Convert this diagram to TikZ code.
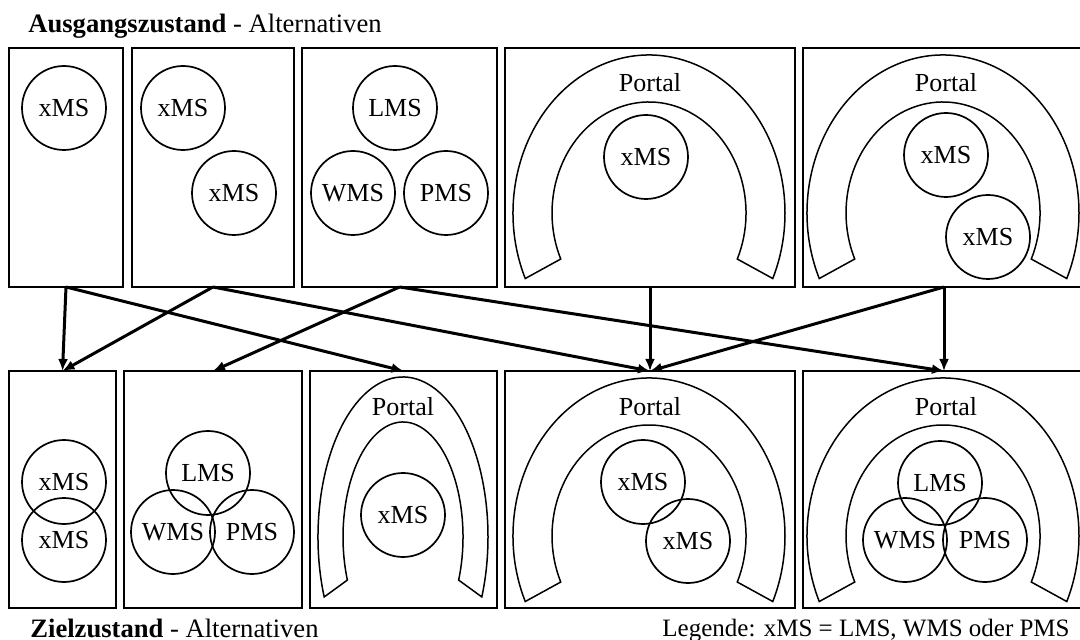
\documentclass[tikz,border=0pt]{standalone}
\usepackage{fontspec}
\setmainfont{Liberation Serif}
\usetikzlibrary{arrows.meta,calc}

\tikzset{
  box/.style={draw, line width=1.1pt, inner sep=0pt, outer sep=0pt},
  sys/.style={draw, circle, line width=0.85pt, minimum size=42pt, inner sep=0pt},
  arr/.style={-{Latex[length=6pt,width=5pt]}, line width=1.5pt},
}

% portal arch: #1 centre, #2/#3 outer radii, #4/#5 inner radii, #6 angle of the open ends
\newcommand{\portalarch}[6]{%
  \draw[line width=0.75pt] (#1) ++(180-#6:#2 and #3)
    arc[start angle=180-#6, end angle=360+#6, x radius=#2, y radius=#3]
    -- ($(#1)+(#6:#4 and #5)$)
    arc[start angle=#6, end angle=-180-#6, x radius=#4, y radius=#5] -- cycle;}

\begin{document}
\begin{tikzpicture}[x=0.5pt, y=-0.5pt, font=\fontsize{13}{15.5}\selectfont]
  \useasboundingbox (0,0) rectangle (1080,640);

  % Ausgangszustand
  \node[box, minimum width=57pt, minimum height=119.5pt] (a1) at (66, 167.5) {};
  \node[box, minimum width=81pt, minimum height=119.5pt] (a2) at (213, 167.5) {};
  \node[box, minimum width=97.5pt, minimum height=119.5pt] (a3) at (399.5, 167.5) {};
  \node[box, minimum width=145pt, minimum height=119.5pt] (a4) at (650, 167.5) {};
  \node[box, minimum width=141pt, minimum height=119.5pt] (a5) at (944, 167.5) {};

  \node[sys] (a1x) at (64, 108) {xMS};

  \node[sys] (a2x) at (183, 108) {xMS};
  \node[sys] (a2y) at (234, 193) {xMS};

  \node[sys] (a3l) at (395, 108) {LMS};
  \node[sys] (a3w) at (353, 193) {WMS};
  \node[sys] (a3p) at (446, 193) {PMS};

  \portalarch{649,213}{136}{158}{97}{111}{24.5}
  \node (a4portal) at (650, 83) {Portal};
  \node[sys] (a4x) at (646, 157) {xMS};

  \portalarch{943,213}{136}{158}{97}{111}{24.5}
  \node (a5portal) at (946, 83) {Portal};
  \node[sys] (a5x) at (946, 155) {xMS};
  \node[sys] (a5y) at (988, 237) {xMS};

  % Zielzustand
  \node[box, minimum width=53.5pt, minimum height=118.5pt] (z1) at (62.5, 489.5) {};
  \node[box, minimum width=89pt, minimum height=118.5pt] (z2) at (213, 489.5) {};
  \node[box, minimum width=93.5pt, minimum height=118.5pt] (z3) at (403.5, 489.5) {};
  \node[box, minimum width=145pt, minimum height=118.5pt] (z4) at (650, 489.5) {};
  \node[box, minimum width=141pt, minimum height=118.5pt] (z5) at (944, 489.5) {};

  \node[sys] (z1x) at (64, 482) {xMS};
  \node[sys] (z1y) at (64, 540) {xMS};

  \node[sys] (z2l) at (208, 473) {LMS};
  \node[sys] (z2w) at (173, 532) {WMS};
  \node[sys] (z2p) at (252, 532) {PMS};

  \portalarch{403,537}{85}{160}{60}{115}{22}
  \node (z3portal) at (403, 407) {Portal};
  \node[sys] (z3x) at (403, 515) {xMS};

  \portalarch{649,536}{136}{158}{97}{111}{24.5}
  \node (z4portal) at (650, 407) {Portal};
  \node[sys] (z4x) at (643, 482) {xMS};
  \node[sys] (z4y) at (688, 541) {xMS};

  \portalarch{943,536}{136}{158}{97}{111}{24.5}
  \node (z5portal) at (946, 407) {Portal};
  \node[sys] (z5l) at (940, 483) {LMS};
  \node[sys] (z5w) at (905, 540) {WMS};
  \node[sys] (z5p) at (985, 540) {PMS};

  % Uebergaenge
  \draw[arr] (a1.south) -- (z1.north);
  \draw[arr] (a1.south) -- (z3.north);
  \draw[arr] (a2.south) -- (z1.north);
  \draw[arr] (a2.south) -- (z4.north);
  \draw[arr] (a3.south) -- (z2.north);
  \draw[arr] (a3.south) -- (z5.north);
  \draw[arr] (a4.south) -- (z4.north);
  \draw[arr] (a5.south) -- (z4.north);
  \draw[arr] (a5.south) -- (z5.north);

  % Beschriftung
  \node[anchor=base west, inner sep=0pt, font=\fontsize{13.3}{16}\selectfont] (titel) at (28, 33)
    {\textbf{Ausgangszustand} - Alternativen};
  \node[anchor=base west, inner sep=0pt, font=\fontsize{13.3}{16}\selectfont] (ziel) at (30, 637)
    {\textbf{Zielzustand} - Alternativen};
  \node[anchor=base east, inner sep=0pt, font=\fontsize{12.5}{15}\selectfont] (legende) at (1070, 636)
    {Legende: xMS = LMS, WMS oder PMS};
\end{tikzpicture}
\end{document}
